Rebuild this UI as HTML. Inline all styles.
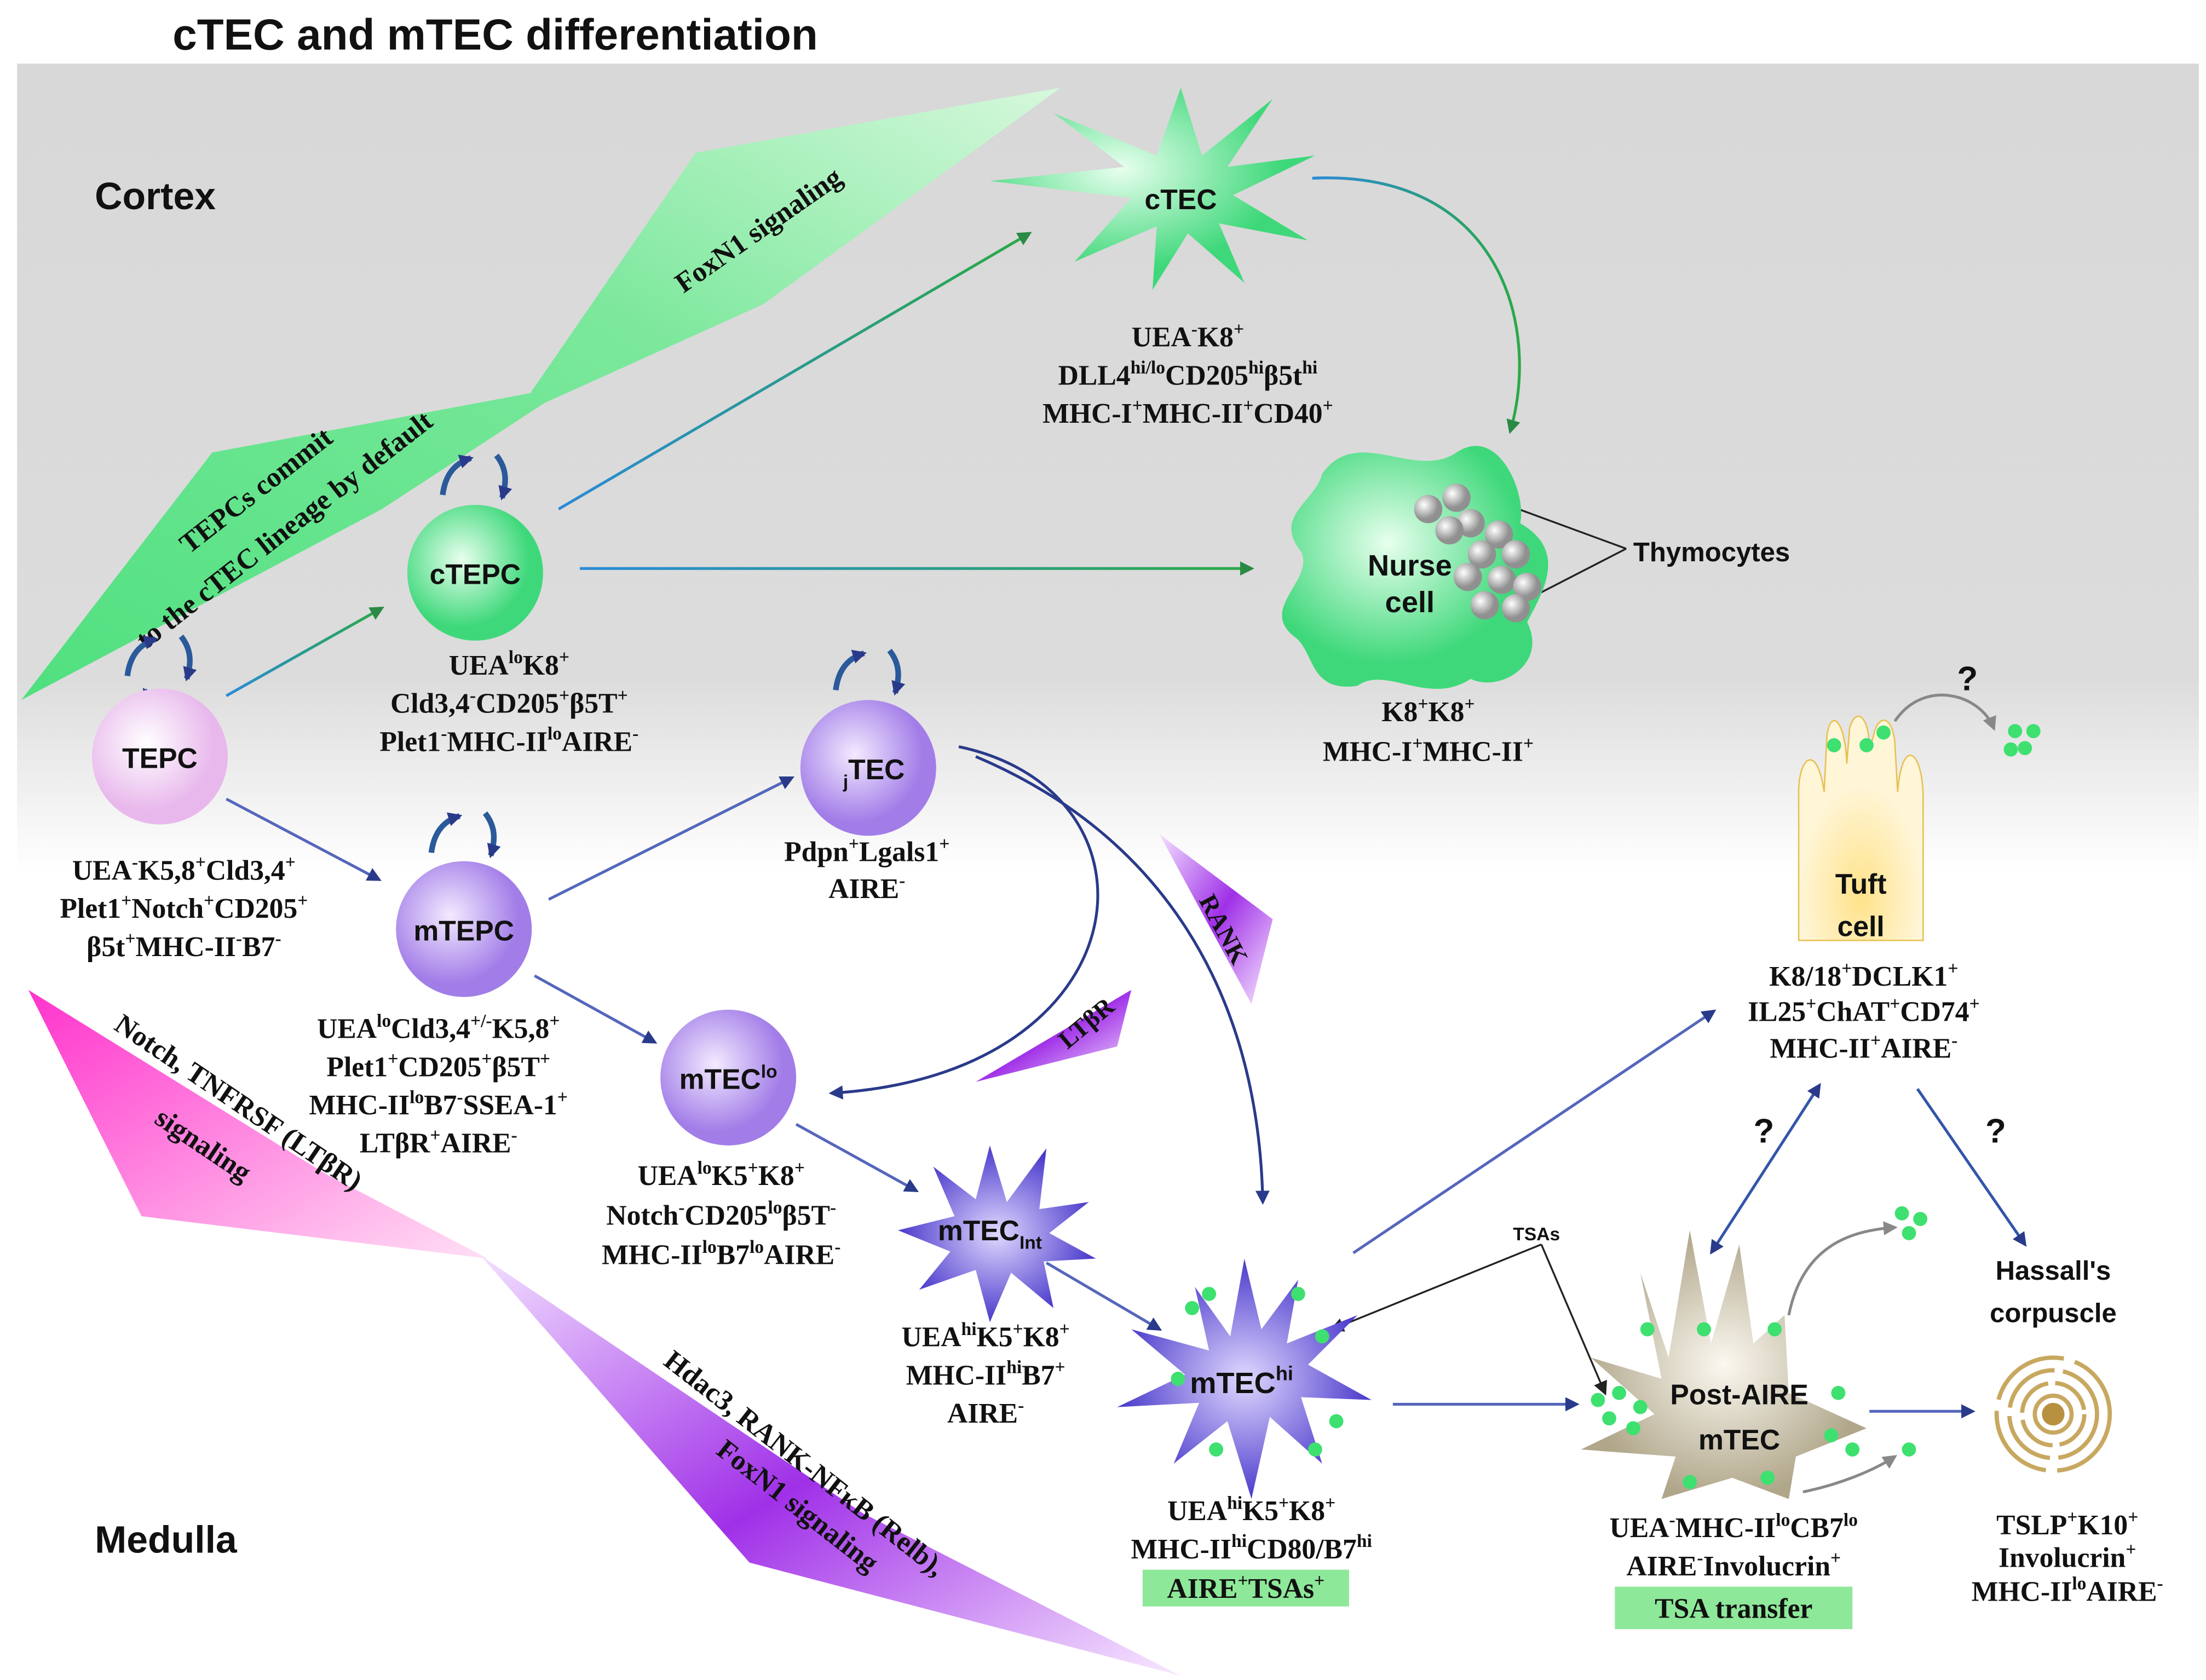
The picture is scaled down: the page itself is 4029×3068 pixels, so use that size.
<!DOCTYPE html>
<html><head><meta charset="utf-8"><style>
html,body{margin:0;padding:0;background:#fff}
svg{display:block}
.l{font-family:"Liberation Serif",serif;font-weight:bold;font-size:20px;fill:#111;text-anchor:middle}
.s{font-family:"Liberation Sans",sans-serif;font-weight:bold;fill:#111}
</style></head><body>
<svg width="4029" height="3068" viewBox="0 0 1560 1188" xmlns="http://www.w3.org/2000/svg">
<defs>
<linearGradient id="bg" x1="0" y1="0" x2="0" y2="1">
<stop offset="0" stop-color="#d8d8d8"/><stop offset="0.38" stop-color="#dcdcdc"/><stop offset="0.5" stop-color="#fff"/><stop offset="1" stop-color="#fff"/></linearGradient>
<linearGradient id="gb" x1="0" y1="1" x2="1" y2="0"><stop offset="0" stop-color="#4fe07f"/><stop offset="0.6" stop-color="#7ce89c"/><stop offset="1" stop-color="#d6f8dc"/></linearGradient>
<linearGradient id="mg" x1="0" y1="0" x2="1" y2="1"><stop offset="0" stop-color="#ff33cc"/><stop offset="1" stop-color="#ffe0f5"/></linearGradient>
<linearGradient id="pg" x1="0" y1="0" x2="1" y2="1"><stop offset="0" stop-color="#f2e0ff"/><stop offset="0.5" stop-color="#a030e8"/><stop offset="1" stop-color="#f8eaff"/></linearGradient>
<radialGradient id="pink" cx="0.4" cy="0.4"><stop offset="0" stop-color="#fff"/><stop offset="1" stop-color="#e8b8ec"/></radialGradient>
<radialGradient id="grn" cx="0.4" cy="0.4"><stop offset="0" stop-color="#e8ffee"/><stop offset="1" stop-color="#3ed87a"/></radialGradient>
<radialGradient id="pur" cx="0.4" cy="0.4"><stop offset="0" stop-color="#f3eaff"/><stop offset="1" stop-color="#a27de8"/></radialGradient>
<radialGradient id="dpur" cx="0.5" cy="0.5"><stop offset="0" stop-color="#e0d8ff"/><stop offset="1" stop-color="#4a3acb"/></radialGradient>
<radialGradient id="beige" cx="0.5" cy="0.5"><stop offset="0" stop-color="#fbf8f0"/><stop offset="1" stop-color="#b0a68a"/></radialGradient>
<radialGradient id="yel" cx="0.5" cy="0.8"><stop offset="0" stop-color="#ffe28a"/><stop offset="1" stop-color="#fff6d8"/></radialGradient>
<radialGradient id="gray" cx="0.35" cy="0.35"><stop offset="0" stop-color="#fff"/><stop offset="1" stop-color="#909090"/></radialGradient>
<marker id="a" markerWidth="10" markerHeight="10" refX="8" refY="5" orient="auto" markerUnits="userSpaceOnUse"><path d="M0,0L10,5L0,10z" fill="#2a8a45"/></marker>
<marker id="ab" markerWidth="10" markerHeight="10" refX="8" refY="5" orient="auto" markerUnits="userSpaceOnUse"><path d="M0,0L10,5L0,10z" fill="#2a3a8a"/></marker>
<marker id="ak" markerWidth="10" markerHeight="10" refX="8" refY="5" orient="auto" markerUnits="userSpaceOnUse"><path d="M0,0L10,5L0,10z" fill="#222"/></marker>
<marker id="ag" markerWidth="10" markerHeight="10" refX="8" refY="5" orient="auto" markerUnits="userSpaceOnUse"><path d="M0,0L10,5L0,10z" fill="#888"/></marker>
<marker id="as" markerWidth="10" markerHeight="10" refX="5" refY="5" orient="auto-start-reverse" markerUnits="userSpaceOnUse"><path d="M0,0L10,5L0,10z" fill="#2a3a8a"/></marker>
<linearGradient id="lbg" x1="0" y1="0" x2="1" y2="0"><stop offset="0" stop-color="#2a8ad8"/><stop offset="1" stop-color="#2aaa45"/></linearGradient>
<linearGradient id="lh" gradientUnits="userSpaceOnUse" x1="410" y1="0" x2="885" y2="0"><stop offset="0" stop-color="#2a8ad8"/><stop offset="1" stop-color="#2aaa45"/></linearGradient>
</defs>
<rect x="12" y="45" width="1543" height="1143" fill="url(#bg)"/>
<text x="122" y="35" class="s" font-size="31">cTEC and mTEC differentiation</text>
<text x="67" y="148" class="s" font-size="27">Cortex</text>
<text x="67" y="1098" class="s" font-size="27">Medulla</text>
<polygon points="15,495 150,320 375,278 492,108 750,62 540,215 385,285 270,360" fill="url(#gb)"/>
<text transform="translate(540,168) rotate(-35)" class="s" font-size="20" text-anchor="middle" style="font-family:'Liberation Serif',serif">FoxN1 signaling</text>
<text transform="translate(185,352) rotate(-38)" class="s" font-size="20" text-anchor="middle" style="font-family:'Liberation Serif',serif">TEPCs commit</text>
<text transform="translate(205,380) rotate(-38)" class="s" font-size="20" text-anchor="middle" style="font-family:'Liberation Serif',serif">to the cTEC lineage by default</text>
<polygon points="20,700 100,860 345,890 230,830" fill="url(#mg)"/>
<text transform="translate(165,785) rotate(34)" class="s" font-size="20" text-anchor="middle" style="font-family:'Liberation Serif',serif">Notch, TNFRSF (LTβR)</text>
<text transform="translate(140,815) rotate(34)" class="s" font-size="20" text-anchor="middle" style="font-family:'Liberation Serif',serif">signaling</text>
<polygon points="340,888 530,1105 835,1185 610,1070" fill="url(#pg)"/>
<text transform="translate(565,1040) rotate(38)" class="s" font-size="20" text-anchor="middle" style="font-family:'Liberation Serif',serif">Hdac3, RANK-NFκB (Relb),</text>
<text transform="translate(560,1070) rotate(38)" class="s" font-size="20" text-anchor="middle" style="font-family:'Liberation Serif',serif">FoxN1 signaling</text>
<polygon points="820,590 900,650 885,710" fill="url(#pg)"/>
<text transform="translate(860,660) rotate(62)" class="s" font-size="18" text-anchor="middle" style="font-family:'Liberation Serif',serif">RANK</text>
<polygon points="690,765 800,700 790,740" fill="url(#pg)"/>
<text transform="translate(772,728) rotate(-40)" class="s" font-size="18" text-anchor="middle" style="font-family:'Liberation Serif',serif">LTβR</text>
<g fill="none" stroke-width="2">
<line x1="160" y1="492" x2="270" y2="430" stroke="url(#lbg)" marker-end="url(#a)"/>
<line x1="395" y1="360" x2="728" y2="165" stroke="url(#lbg)" marker-end="url(#a)"/>
<line x1="410" y1="402" x2="885" y2="402" stroke="url(#lh)" marker-end="url(#a)"/>
<path d="M928,126 C1060,120 1090,230 1068,305" stroke="url(#lbg)" marker-end="url(#a)"/>
<line x1="160" y1="565" x2="268" y2="622" stroke="#5566bb" marker-end="url(#ab)"/>
<line x1="388" y1="636" x2="560" y2="550" stroke="#5566bb" marker-end="url(#ab)"/>
<line x1="378" y1="690" x2="463" y2="737" stroke="#5566bb" marker-end="url(#ab)"/>
<path d="M678,528 C830,560 810,760 588,773" stroke="#2a3a8a" marker-end="url(#ab)"/>
<path d="M690,535 C820,590 890,700 893,850" stroke="#2a3a8a" marker-end="url(#ab)"/>
<line x1="563" y1="795" x2="648" y2="842" stroke="#5566bb" marker-end="url(#ab)"/>
<line x1="740" y1="893" x2="820" y2="940" stroke="#5566bb" marker-end="url(#ab)"/>
<line x1="985" y1="993" x2="1115" y2="993" stroke="#5566bb" marker-end="url(#ab)"/>
<line x1="1322" y1="998" x2="1395" y2="998" stroke="#5566bb" marker-end="url(#ab)"/>
<line x1="957" y1="886" x2="1212" y2="715" stroke="#5566bb" marker-end="url(#ab)"/>
<line x1="1212" y1="883" x2="1285" y2="770" stroke="#3355aa" marker-end="url(#as)" marker-start="url(#as)"/>
<line x1="1356" y1="770" x2="1432" y2="880" stroke="#3355aa" marker-end="url(#ab)"/>
<line x1="1090" y1="880" x2="942" y2="940" stroke="#222" stroke-width="1.3" marker-end="url(#ak)"/>
<line x1="1090" y1="880" x2="1135" y2="985" stroke="#222" stroke-width="1.3" marker-end="url(#ak)"/>
<path d="M1340,510 C1360,480 1400,490 1410,515" stroke="#888" marker-end="url(#ag)"/>
<path d="M1265,930 C1275,880 1310,870 1340,868" stroke="#888" marker-end="url(#ag)"/>
<path d="M1275,1055 C1300,1050 1325,1040 1340,1030" stroke="#888" marker-end="url(#ag)"/>
<line x1="1150" y1="388" x2="1052" y2="352" stroke="#222" stroke-width="1.3"/>
<line x1="1150" y1="388" x2="1078" y2="425" stroke="#222" stroke-width="1.3"/>
</g>
<text x="1070" y="877" class="s" font-size="13">TSAs</text>
<text x="1384" y="488" class="s" font-size="24">?</text>
<text x="1240" y="808" class="s" font-size="24">?</text>
<text x="1404" y="808" class="s" font-size="24">?</text>
<g fill="none" stroke="#2a5a9a" stroke-width="4">
<path d="M90,478 C92,462 100,455 110,452" marker-end="url(#ab)"/><path d="M128,450 C136,460 135,470 132,480" marker-end="url(#ab)"/><path d="M130,496 C120,500 108,498 102,488" marker-end="url(#ab)"/>
<path d="M313,350 C315,334 323,327 333,324" marker-end="url(#ab)"/><path d="M351,322 C359,332 358,342 355,352" marker-end="url(#ab)"/><path d="M353,368 C343,372 331,370 325,360" marker-end="url(#ab)"/>
<path d="M305,603 C307,587 315,580 325,577" marker-end="url(#ab)"/><path d="M343,575 C351,585 350,595 347,605" marker-end="url(#ab)"/><path d="M345,621 C335,625 323,623 317,613" marker-end="url(#ab)"/>
<path d="M591,488 C593,472 601,465 611,462" marker-end="url(#ab)"/><path d="M629,460 C637,470 636,480 633,490" marker-end="url(#ab)"/><path d="M631,506 C621,510 609,508 603,498" marker-end="url(#ab)"/>
</g>
<circle cx="113" cy="535" r="48" fill="url(#pink)"/><text x="113" y="543" class="s" font-size="20" text-anchor="middle">TEPC</text>
<circle cx="336" cy="405" r="48" fill="url(#grn)"/><text x="336" y="413" class="s" font-size="20" text-anchor="middle">cTEPC</text>
<circle cx="328" cy="657" r="48" fill="url(#pur)"/><text x="328" y="665" class="s" font-size="20" text-anchor="middle">mTEPC</text>
<circle cx="614" cy="543" r="48" fill="url(#pur)"/><text x="618" y="551" class="s" font-size="20" text-anchor="middle"><tspan font-size="13" dy="6">j</tspan><tspan dy="-6">TEC</tspan></text>
<circle cx="515" cy="762" r="48" fill="url(#pur)"/><text x="515" y="770" class="s" font-size="20" text-anchor="middle">mTEC<tspan font-size="13" dy="-8">lo</tspan></text>
<polygon points="835,62 850,110 900,70 868,118 930,110 872,138 925,170 862,158 880,200 840,165 815,205 818,160 760,185 800,140 700,128 795,118 745,80 818,110" fill="url(#grn)"/>
<text x="835" y="148" class="s" font-size="20" text-anchor="middle">cTEC</text>
<path d="M935,335 C960,300 1000,340 1030,320 C1060,300 1080,350 1075,370 C1110,390 1090,420 1080,440 C1095,470 1060,490 1040,480 C1010,500 980,470 960,485 C925,490 930,460 915,450 C890,430 930,410 920,390 C900,365 930,355 935,335Z" fill="url(#grn)"/>
<g fill="url(#gray)">
<circle cx="1010" cy="360" r="10"/><circle cx="1030" cy="352" r="10"/><circle cx="1040" cy="370" r="10"/><circle cx="1025" cy="375" r="10"/><circle cx="1060" cy="378" r="10"/><circle cx="1048" cy="392" r="10"/><circle cx="1072" cy="392" r="10"/><circle cx="1038" cy="408" r="10"/><circle cx="1062" cy="410" r="10"/><circle cx="1080" cy="415" r="10"/><circle cx="1050" cy="428" r="10"/><circle cx="1072" cy="430" r="10"/></g>
<text x="997" y="407" class="s" font-size="21" text-anchor="middle">Nurse</text><text x="997" y="433" class="s" font-size="21" text-anchor="middle">cell</text>
<text x="1155" y="397" class="s" font-size="19">Thymocytes</text>
<polygon points="700,810 712,850 740,812 735,855 770,850 742,872 775,890 738,892 745,925 715,900 700,935 690,898 650,912 672,885 635,870 675,860 660,825 690,848" fill="url(#dpur)"/>
<text x="700" y="877" class="s" font-size="20" text-anchor="middle">mTEC<tspan font-size="13" dy="6">Int</tspan></text>
<polygon points="880,890 892,940 918,905 910,950 960,930 925,965 970,990 920,988 935,1035 898,1002 885,1060 868,1005 830,1035 848,992 790,995 838,972 800,940 855,955 845,910 870,945" fill="url(#dpur)"/>
<text x="878" y="985" class="s" font-size="21" text-anchor="middle">mTEC<tspan font-size="14" dy="-9">hi</tspan></text>
<path d="M1160,900 L1180,960 L1195,870 L1210,950 L1230,880 L1240,950 L1262,930 L1265,985 L1320,1010 L1270,1030 L1265,1060 L1225,1045 L1175,1060 L1185,1030 L1118,1025 L1170,1000 L1125,960 L1175,975Z" fill="url(#beige)"/>
<text x="1230" y="993" class="s" font-size="20" text-anchor="middle">Post-AIRE</text><text x="1230" y="1025" class="s" font-size="20" text-anchor="middle">mTEC</text>
<path d="M1272,665 L1272,560 C1272,535 1285,525 1290,560 L1292,520 C1295,500 1305,510 1306,540 L1308,515 C1312,500 1322,505 1322,530 L1325,520 C1328,505 1338,505 1340,525 L1342,560 C1345,520 1360,530 1360,565 L1360,665 Z" fill="url(#yel)" stroke="#e8c050" stroke-width="1"/>
<text x="1316" y="632" class="s" font-size="20" text-anchor="middle">Tuft</text><text x="1316" y="662" class="s" font-size="20" text-anchor="middle">cell</text>
<g fill="none" stroke="#c8a860" stroke-width="3">
<circle cx="1452" cy="1000" r="40" stroke-dasharray="60 8"/><circle cx="1452" cy="1000" r="31" stroke-dasharray="45 6"/><circle cx="1452" cy="1000" r="22" stroke-dasharray="30 5"/><circle cx="1452" cy="1000" r="13"/></g>
<circle cx="1452" cy="1000" r="8" fill="#b89040"/>
<text x="1452" y="905" class="s" font-size="19" text-anchor="middle">Hassall's</text><text x="1452" y="935" class="s" font-size="19" text-anchor="middle">corpuscle</text>
<g fill="#3ee070">
<circle cx="1297" cy="527" r="5"/><circle cx="1320" cy="527" r="5"/><circle cx="1332" cy="518" r="5"/><circle cx="1425" cy="517" r="5"/><circle cx="1438" cy="517" r="5"/><circle cx="1432" cy="529" r="5"/><circle cx="1422" cy="530" r="5"/>
<circle cx="855" cy="915" r="5"/><circle cx="843" cy="925" r="5"/><circle cx="918" cy="915" r="5"/><circle cx="935" cy="945" r="5"/><circle cx="833" cy="975" r="5"/><circle cx="860" cy="1025" r="5"/><circle cx="930" cy="1025" r="5"/><circle cx="945" cy="1005" r="5"/>
<circle cx="1130" cy="990" r="5"/><circle cx="1145" cy="985" r="5"/><circle cx="1160" cy="995" r="5"/><circle cx="1138" cy="1003" r="5"/><circle cx="1155" cy="1010" r="5"/><circle cx="1165" cy="940" r="5"/><circle cx="1205" cy="940" r="5"/><circle cx="1255" cy="940" r="5"/><circle cx="1300" cy="985" r="5"/><circle cx="1295" cy="1015" r="5"/><circle cx="1310" cy="1025" r="5"/><circle cx="1250" cy="1045" r="5"/><circle cx="1195" cy="1048" r="5"/><circle cx="1350" cy="1025" r="5"/>
<circle cx="1345" cy="858" r="5"/><circle cx="1358" cy="862" r="5"/><circle cx="1350" cy="872" r="5"/></g>
<text class="l" x="840" y="245">UEA<tspan font-size="13" dy="-8">-</tspan><tspan dy="8">K8</tspan><tspan font-size="13" dy="-8">+</tspan></text>
<text class="l" x="840" y="272">DLL4<tspan font-size="13" dy="-8">hi/lo</tspan><tspan dy="8">CD205</tspan><tspan font-size="13" dy="-8">hi</tspan><tspan dy="8">β5t</tspan><tspan font-size="13" dy="-8">hi</tspan></text>
<text class="l" x="840" y="299">MHC-I<tspan font-size="13" dy="-8">+</tspan><tspan dy="8">MHC-II</tspan><tspan font-size="13" dy="-8">+</tspan><tspan dy="8">CD40</tspan><tspan font-size="13" dy="-8">+</tspan></text>
<text class="l" x="360" y="477">UEA<tspan font-size="13" dy="-8">lo</tspan><tspan dy="8">K8</tspan><tspan font-size="13" dy="-8">+</tspan></text>
<text class="l" x="360" y="504">Cld3,4<tspan font-size="13" dy="-8">-</tspan><tspan dy="8">CD205</tspan><tspan font-size="13" dy="-8">+</tspan><tspan dy="8">β5T</tspan><tspan font-size="13" dy="-8">+</tspan></text>
<text class="l" x="360" y="531">Plet1<tspan font-size="13" dy="-8">-</tspan><tspan dy="8">MHC-II</tspan><tspan font-size="13" dy="-8">lo</tspan><tspan dy="8">AIRE</tspan><tspan font-size="13" dy="-8">-</tspan></text>
<text class="l" x="130" y="622">UEA<tspan font-size="13" dy="-8">-</tspan><tspan dy="8">K5,8</tspan><tspan font-size="13" dy="-8">+</tspan><tspan dy="8">Cld3,4</tspan><tspan font-size="13" dy="-8">+</tspan></text>
<text class="l" x="130" y="649">Plet1<tspan font-size="13" dy="-8">+</tspan><tspan dy="8">Notch</tspan><tspan font-size="13" dy="-8">+</tspan><tspan dy="8">CD205</tspan><tspan font-size="13" dy="-8">+</tspan></text>
<text class="l" x="130" y="676">β5t<tspan font-size="13" dy="-8">+</tspan><tspan dy="8">MHC-II</tspan><tspan font-size="13" dy="-8">-</tspan><tspan dy="8">B7</tspan><tspan font-size="13" dy="-8">-</tspan></text>
<text class="l" x="613" y="609">Pdpn<tspan font-size="13" dy="-8">+</tspan><tspan dy="8">Lgals1</tspan><tspan font-size="13" dy="-8">+</tspan></text>
<text class="l" x="613" y="635">AIRE<tspan font-size="13" dy="-8">-</tspan></text>
<text class="l" x="1010" y="510">K8<tspan font-size="13" dy="-8">+</tspan><tspan dy="8">K8</tspan><tspan font-size="13" dy="-8">+</tspan></text>
<text class="l" x="1010" y="538">MHC-I<tspan font-size="13" dy="-8">+</tspan><tspan dy="8">MHC-II</tspan><tspan font-size="13" dy="-8">+</tspan></text>
<text class="l" x="310" y="734">UEA<tspan font-size="13" dy="-8">lo</tspan><tspan dy="8">Cld3,4</tspan><tspan font-size="13" dy="-8">+/-</tspan><tspan dy="8">K5,8</tspan><tspan font-size="13" dy="-8">+</tspan></text>
<text class="l" x="310" y="761">Plet1<tspan font-size="13" dy="-8">+</tspan><tspan dy="8">CD205</tspan><tspan font-size="13" dy="-8">+</tspan><tspan dy="8">β5T</tspan><tspan font-size="13" dy="-8">+</tspan></text>
<text class="l" x="310" y="788">MHC-II<tspan font-size="13" dy="-8">lo</tspan><tspan dy="8">B7</tspan><tspan font-size="13" dy="-8">-</tspan><tspan dy="8">SSEA-1</tspan><tspan font-size="13" dy="-8">+</tspan></text>
<text class="l" x="310" y="815">LTβR<tspan font-size="13" dy="-8">+</tspan><tspan dy="8">AIRE</tspan><tspan font-size="13" dy="-8">-</tspan></text>
<text class="l" x="510" y="838">UEA<tspan font-size="13" dy="-8">lo</tspan><tspan dy="8">K5</tspan><tspan font-size="13" dy="-8">+</tspan><tspan dy="8">K8</tspan><tspan font-size="13" dy="-8">+</tspan></text>
<text class="l" x="510" y="866">Notch<tspan font-size="13" dy="-8">-</tspan><tspan dy="8">CD205</tspan><tspan font-size="13" dy="-8">lo</tspan><tspan dy="8">β5T</tspan><tspan font-size="13" dy="-8">-</tspan></text>
<text class="l" x="510" y="894">MHC-II<tspan font-size="13" dy="-8">lo</tspan><tspan dy="8">B7</tspan><tspan font-size="13" dy="-8">lo</tspan><tspan dy="8">AIRE</tspan><tspan font-size="13" dy="-8">-</tspan></text>
<text class="l" x="697" y="952">UEA<tspan font-size="13" dy="-8">hi</tspan><tspan dy="8">K5</tspan><tspan font-size="13" dy="-8">+</tspan><tspan dy="8">K8</tspan><tspan font-size="13" dy="-8">+</tspan></text>
<text class="l" x="697" y="979">MHC-II<tspan font-size="13" dy="-8">hi</tspan><tspan dy="8">B7</tspan><tspan font-size="13" dy="-8">+</tspan></text>
<text class="l" x="697" y="1006">AIRE<tspan font-size="13" dy="-8">-</tspan></text>
<text class="l" x="885" y="1075">UEA<tspan font-size="13" dy="-8">hi</tspan><tspan dy="8">K5</tspan><tspan font-size="13" dy="-8">+</tspan><tspan dy="8">K8</tspan><tspan font-size="13" dy="-8">+</tspan></text>
<text class="l" x="885" y="1102">MHC-II<tspan font-size="13" dy="-8">hi</tspan><tspan dy="8">CD80/B7</tspan><tspan font-size="13" dy="-8">hi</tspan></text>
<rect x="808" y="1110" width="146" height="26" fill="#8ee89a"/>
<text class="l" x="881" y="1130">AIRE<tspan font-size="13" dy="-8">+</tspan><tspan dy="8">TSAs</tspan><tspan font-size="13" dy="-8">+</tspan></text>
<text class="l" x="1226" y="1087">UEA<tspan font-size="13" dy="-8">-</tspan><tspan dy="8">MHC-II</tspan><tspan font-size="13" dy="-8">lo</tspan><tspan dy="8">CB7</tspan><tspan font-size="13" dy="-8">lo</tspan></text>
<text class="l" x="1226" y="1114">AIRE<tspan font-size="13" dy="-8">-</tspan><tspan dy="8">Involucrin</tspan><tspan font-size="13" dy="-8">+</tspan></text>
<rect x="1142" y="1122" width="168" height="30" fill="#8ee89a"/>
<text class="l" x="1226" y="1144">TSA transfer</text>
<text class="l" x="1462" y="1085">TSLP<tspan font-size="13" dy="-8">+</tspan><tspan dy="8">K10</tspan><tspan font-size="13" dy="-8">+</tspan></text>
<text class="l" x="1462" y="1108">Involucrin<tspan font-size="13" dy="-8">+</tspan></text>
<text class="l" x="1462" y="1132">MHC-II<tspan font-size="13" dy="-8">lo</tspan><tspan dy="8">AIRE</tspan><tspan font-size="13" dy="-8">-</tspan></text>
<text class="l" x="1318" y="697">K8/18<tspan font-size="13" dy="-8">+</tspan><tspan dy="8">DCLK1</tspan><tspan font-size="13" dy="-8">+</tspan></text>
<text class="l" x="1318" y="722">IL25<tspan font-size="13" dy="-8">+</tspan><tspan dy="8">ChAT</tspan><tspan font-size="13" dy="-8">+</tspan><tspan dy="8">CD74</tspan><tspan font-size="13" dy="-8">+</tspan></text>
<text class="l" x="1318" y="748">MHC-II<tspan font-size="13" dy="-8">+</tspan><tspan dy="8">AIRE</tspan><tspan font-size="13" dy="-8">-</tspan></text>
</svg>
</body></html>
